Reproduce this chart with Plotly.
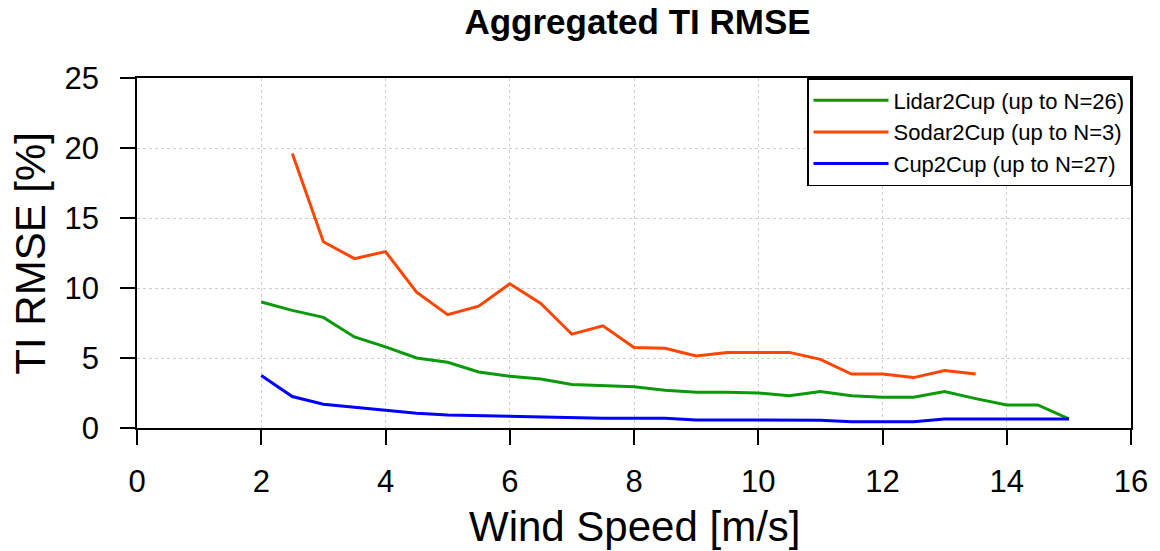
import plotly.graph_objects as go

wind_speed = [2.0, 2.5, 3.0, 3.5, 4.0, 4.5, 5.0, 5.5, 6.0, 6.5, 7.0, 7.5, 8.0, 8.5,
              9.0, 9.5, 10.0, 10.5, 11.0, 11.5, 12.0, 12.5, 13.0, 13.5, 14.0, 14.5, 15.0]
lidar_rmse = [9.0, 8.4, 7.9, 6.5, 5.8, 5.0, 4.7, 4.0, 3.7, 3.5, 3.1, 3.0, 2.95, 2.7,
              2.55, 2.55, 2.5, 2.3, 2.6, 2.3, 2.2, 2.2, 2.6, 2.1, 1.65, 1.65, 0.65]
sodar_ws = [2.5, 3.0, 3.5, 4.0, 4.5, 5.0, 5.5, 6.0, 6.5, 7.0, 7.5, 8.0, 8.5,
            9.0, 9.5, 10.0, 10.5, 11.0, 11.5, 12.0, 12.5, 13.0, 13.5]
sodar_rmse = [19.6, 13.3, 12.1, 12.6, 9.7, 8.1, 8.7, 10.3, 8.9, 6.7, 7.3, 5.75, 5.7,
              5.15, 5.4, 5.4, 5.4, 4.9, 3.85, 3.85, 3.6, 4.1, 3.85]
cup_rmse = [3.75, 2.25, 1.7, 1.5, 1.3, 1.05, 0.93, 0.88, 0.85, 0.8, 0.75, 0.7, 0.7, 0.7,
            0.58, 0.58, 0.58, 0.58, 0.55, 0.45, 0.45, 0.45, 0.65, 0.65, 0.65, 0.65, 0.65]

series_names = ["Lidar2Cup (up to N=26)", "Sodar2Cup (up to N=3)", "Cup2Cup (up to N=27)"]
series_colors = ["#0a990a", "#ff4500", "#0000ff"]

x_ticks = [0, 2, 4, 6, 8, 10, 12, 14, 16]
y_ticks = [0, 5, 10, 15, 20, 25]

FONT = "Liberation Sans, Arial, sans-serif"

fig = go.Figure()
fig.add_trace(go.Scatter(x=wind_speed, y=lidar_rmse, mode="lines", name=series_names[0],
                         line=dict(color=series_colors[0], width=3)))
fig.add_trace(go.Scatter(x=sodar_ws, y=sodar_rmse, mode="lines", name=series_names[1],
                         line=dict(color=series_colors[1], width=3)))
fig.add_trace(go.Scatter(x=wind_speed, y=cup_rmse, mode="lines", name=series_names[2],
                         line=dict(color=series_colors[2], width=3)))

fig.update_layout(
    width=1160, height=551,
    margin=dict(l=137, r=29, t=78, b=123),
    paper_bgcolor="white", plot_bgcolor="white",
    font=dict(family=FONT, color="black"),
    title=dict(text="<b>Aggregated TI RMSE</b>", x=0.5496, xanchor="center",
               y=0.961, yanchor="middle", font=dict(size=35, family=FONT, color="black")),
    showlegend=True,
    legend=dict(x=1.0, y=1.0, xanchor="right", yanchor="top",
                bgcolor="white", bordercolor="black", borderwidth=1.5,
                font=dict(size=22, family=FONT, color="black"),
                tracegroupgap=0, itemwidth=75),
    annotations=[
        dict(text="TI RMSE [%]", textangle=-90, xref="paper", yref="paper",
             x=-0.108, y=0.5, xanchor="center", yanchor="middle", showarrow=False,
             font=dict(size=42, family=FONT, color="black")),
        dict(text="Wind Speed [m/s]", xref="paper", yref="paper",
             x=0.5, y=-0.28, xanchor="center", yanchor="middle", showarrow=False,
             font=dict(size=42, family=FONT, color="black")),
    ],
)
fig.update_xaxes(
    range=[0, 16], tickvals=x_ticks, ticktext=[str(v) for v in x_ticks],
    showline=True, linecolor="black", linewidth=1.5, mirror=True,
    ticks="outside", ticklen=15, tickwidth=1.5, tickcolor="black",
    showgrid=True, gridcolor="#cfcfcf", griddash="dot", gridwidth=1,
    zeroline=False, tickfont=dict(size=31, family=FONT, color="black"),
    ticklabelstandoff=10,
)
fig.update_yaxes(
    range=[0, 25], tickvals=y_ticks, ticktext=[str(v) for v in y_ticks],
    showline=True, linecolor="black", linewidth=1.5, mirror=True,
    ticks="outside", ticklen=15, tickwidth=1.5, tickcolor="black",
    showgrid=True, gridcolor="#cfcfcf", griddash="dot", gridwidth=1,
    zeroline=False, tickfont=dict(size=31, family=FONT, color="black"),
    ticklabelstandoff=15,
)

fig.write_html("out.html")
